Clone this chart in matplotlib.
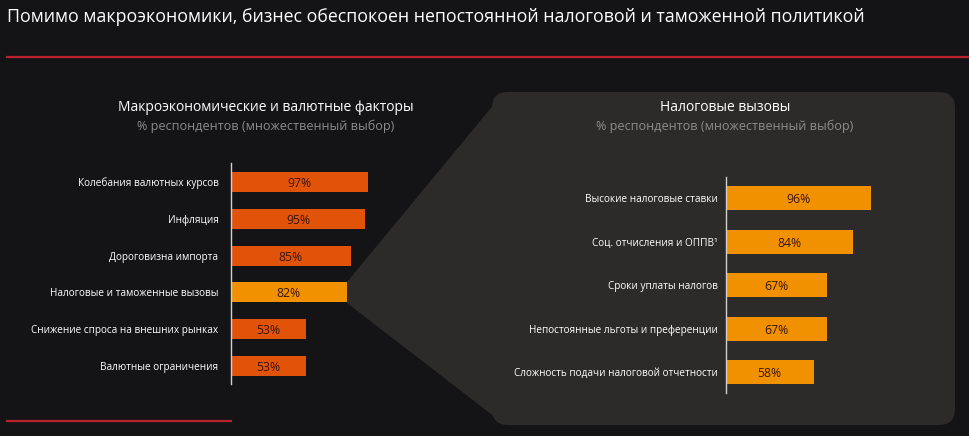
import matplotlib.pyplot as plt
from matplotlib.patches import FancyBboxPatch, Polygon

# ==================================================
# DATA
# ==================================================

TITLE = "Помимо макроэкономики, бизнес обеспокоен непостоянной налоговой и таможенной политикой"

left_title = "Макроэкономические и валютные факторы"
right_title = "Налоговые вызовы"
subtitle = "% респондентов (множественный выбор)"

left_labels = [
    "Колебания валютных курсов",
    "Инфляция",
    "Дороговизна импорта",
    "Налоговые и таможенные вызовы",
    "Снижение спроса на внешних рынках",
    "Валютные ограничения",
]
left_values = [97, 95, 85, 82, 53, 53]
highlight_idx = 3

right_labels = [
    "Высокие налоговые ставки",
    "Соц. отчисления и ОППВ¹",
    "Сроки уплаты налогов",
    "Непостоянные льготы и преференции",
    "Сложность подачи налоговой отчетности",
]
right_values = [96, 84, 67, 67, 58]

# ==================================================
# STYLE
# ==================================================

W, H = 970, 436
BG = "#141316"
PANEL = "#2c2b29"
RED = "#b8232b"
ORANGE_DARK = "#e2530a"
ORANGE = "#f29100"
VALUE_TXT = "#3a1605"

plt.rcParams["font.family"] = ["Open Sans", "DejaVu Sans"]

fig = plt.figure(figsize=(W / 100, H / 100), dpi=100, facecolor=BG)

# background layer in pixel coordinates
bg = fig.add_axes([0, 0, 1, 1])
bg.set_xlim(0, W)
bg.set_ylim(H, 0)
bg.axis("off")
bg.set_facecolor(BG)

bg.text(7, 17, TITLE, color="white", fontsize=12.8, va="center", ha="left")
bg.plot([7, W], [57, 57], color=RED, lw=1.6)
bg.plot([7, 231], [421, 421], color=RED, lw=1.6)

# panel + connector
bg.add_patch(Polygon(
    [(347, 282), (500, 97), (500, 421), (347, 303)],
    closed=True, facecolor=PANEL, edgecolor="none"
))
bg.add_patch(FancyBboxPatch(
    (492, 92), 463, 333,
    boxstyle="round,pad=0,rounding_size=16",
    facecolor=PANEL, edgecolor="none"
))

bg.text(266, 107, left_title, color="white", fontsize=10, ha="center", va="center")
bg.text(266, 126, subtitle, color="#8c8c8c", fontsize=9.1, ha="center", va="center")
bg.text(725, 107, right_title, color="white", fontsize=10, ha="center", va="center")
bg.text(725, 126, subtitle, color="#8c8c8c", fontsize=9.1, ha="center", va="center")


def bar_panel(x0, y_top, y_bot, px_per_pct, centers, labels, values, colors, bar_h, pad):
    n = len(values)
    pitch = (centers[1] - centers[0])
    ylo = -(centers[0] - y_top) / pitch
    yhi = (n - 1) + (y_bot - centers[-1]) / pitch
    height = y_bot - y_top
    width = 100 * px_per_pct
    ax = fig.add_axes([x0 / W, 1 - y_bot / H, width / W, height / H])
    ax.patch.set_alpha(0)
    pos = list(range(n))
    ax.barh(pos, values, height=bar_h / pitch, color=colors)
    for p, v in zip(pos, values):
        ax.text(v / 2, p, f"{v}%", color=VALUE_TXT, fontsize=8.8,
                ha="center", va="center_baseline")
    ax.set_xlim(0, 100)
    ax.set_ylim(yhi, ylo)
    ax.set_yticks(pos)
    ax.set_yticklabels(labels, color="white", fontsize=7.2)
    ax.tick_params(axis="y", length=0, pad=pad)
    ax.set_xticks([])
    for s in ["top", "right", "bottom"]:
        ax.spines[s].set_visible(False)
    ax.spines["left"].set_color("#d0d0d0")
    ax.spines["left"].set_linewidth(1.0)
    return ax


left_colors = [ORANGE if i == highlight_idx else ORANGE_DARK for i in range(len(left_values))]
bar_panel(231, 163, 384, 1.41, [181.7 + 36.9 * i for i in range(6)],
          left_labels, left_values, left_colors, 20, 9)

bar_panel(726, 177, 393, 1.51, [198 + 43.6 * i for i in range(5)],
          right_labels, right_values, [ORANGE] * 5, 24, 6.2)

fig.savefig("out.png", dpi=100, facecolor=BG)
